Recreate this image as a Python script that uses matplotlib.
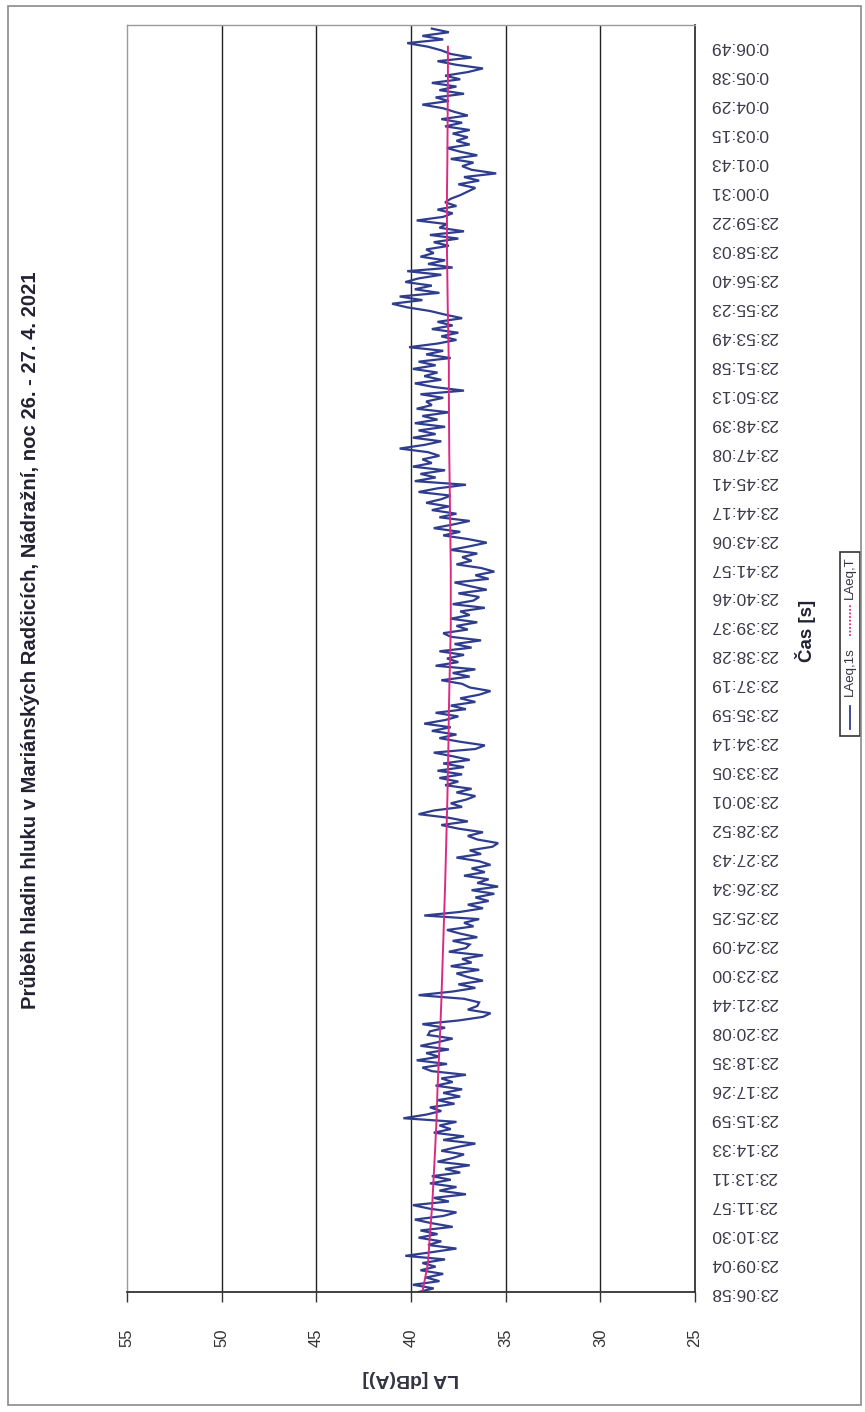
import numpy as np
import matplotlib
matplotlib.use("Agg")
import matplotlib.pyplot as plt
from matplotlib.patches import Rectangle
from matplotlib.lines import Line2D

plt.rcParams['font.family'] = ['Liberation Sans', 'DejaVu Sans']

# ---------------- data ----------------
title = "Průběh hladin hluku v Mariánských Radčicích, Nádražní, noc 26. - 27. 4. 2021"
time_labels = ["23:06:58", "23:09:04", "23:10:30", "23:11:57", "23:13:11", "23:14:33",
               "23:15:59", "23:17:26", "23:18:35", "23:20:08", "23:21:44", "23:23:00",
               "23:24:09", "23:25:25", "23:26:34", "23:27:43", "23:28:52", "23:30:01",
               "23:33:05", "23:34:14", "23:35:59", "23:37:19", "23:38:28", "23:39:37",
               "23:40:46", "23:41:57", "23:43:06", "23:44:17", "23:45:41", "23:47:08",
               "23:48:39", "23:50:13", "23:51:58", "23:53:49", "23:55:23", "23:56:40",
               "23:58:03", "23:59:22", "0:00:31", "0:01:43", "0:03:15", "0:04:29",
               "0:05:38", "0:06:49"]
samples_per_label = 8

laeq_1s = [
    39.6, 38.8, 39.9, 38.5, 39.2, 38.3, 39.5, 38.7,
    39.4, 38.2, 40.3, 38.9, 37.6, 39.1, 38.4, 39.6,
    38.6, 39.5, 37.8, 38.9, 39.8, 38.3, 37.6, 39.0,
    39.9, 38.0, 38.8, 37.1, 38.5, 37.6, 39.0, 37.9,
    38.9, 37.4, 38.2, 36.9, 38.6, 37.8, 37.2, 38.4,
    37.6, 36.6, 38.3, 37.2, 38.8, 37.9, 38.5, 37.6,
    40.4, 39.2, 38.4, 39.0, 37.7, 38.6, 37.4, 38.3,
    37.3, 38.7, 37.8, 38.4, 37.1, 38.9, 39.4, 38.1,
    39.7, 38.5, 39.2, 38.0, 39.5, 38.6, 37.8, 39.1,
    39.0, 38.2, 39.4, 37.5, 36.2, 35.8, 37.0, 36.5,
    36.4, 37.2, 39.6, 37.8, 36.6, 37.5, 36.2, 37.0,
    37.6, 36.4, 37.9, 36.8, 37.3, 36.2, 38.0, 37.1,
    36.9, 37.8, 36.5, 37.4, 38.1, 36.7, 37.2, 36.4,
    39.3, 37.4, 36.2, 37.0, 35.9, 36.6, 35.6, 36.8,
    35.4, 36.5, 35.9, 37.2, 36.1, 36.8, 35.8, 36.4,
    37.6, 36.3, 36.9, 35.7, 35.4, 36.5, 37.0, 36.2,
    37.5, 38.4, 37.0, 38.0, 39.6, 38.8, 37.3, 37.9,
    37.1, 36.6, 37.6, 36.8, 38.2, 37.5, 38.5, 37.3,
    38.6, 37.2, 38.3, 36.9, 37.8, 38.8, 36.6, 36.1,
    37.4, 38.5, 37.6, 38.9, 37.9, 39.3, 38.2, 37.5,
    38.7, 37.1, 37.9, 36.6, 37.4, 36.4, 35.8, 36.9,
    37.3, 38.4, 36.9, 37.8, 36.6, 38.7, 37.5, 38.1,
    37.2, 38.5, 36.8, 37.7, 36.3, 37.9, 38.3, 37.0,
    37.6, 36.5, 37.9, 36.9, 37.4, 36.1, 37.8, 36.7,
    36.4, 37.5, 36.0, 36.9, 37.7, 35.9, 36.6, 35.6,
    36.3, 37.6, 36.8, 37.3, 36.5, 37.9, 36.9, 36.0,
    37.0, 38.3, 37.4, 38.8, 37.8, 36.9, 38.5, 37.6,
    38.9, 38.0, 39.2, 38.4, 37.9, 39.6, 38.6, 37.1,
    39.8, 38.7, 39.5, 38.2, 39.9, 38.9, 39.4, 38.5,
    39.1, 40.6, 39.3, 38.4, 39.9, 38.7, 39.6, 38.2,
    39.8, 38.6, 39.4, 38.0, 39.7, 38.9, 39.2, 38.3,
    39.5, 37.2, 38.8, 39.8, 38.4, 39.3, 38.6, 39.9,
    38.7, 39.6, 37.9, 39.2, 38.3, 40.1, 38.6, 37.6,
    38.4, 37.5, 38.9, 37.8, 38.6, 37.3, 38.2, 39.0,
    40.2, 41.0, 39.4, 40.6, 38.5, 39.8, 38.9, 40.3,
    39.6, 38.4, 40.2, 37.8, 39.1, 38.2, 39.5, 38.8,
    39.2, 38.0, 38.8, 37.5, 39.0, 37.2, 38.5, 38.1,
    39.7, 38.3, 37.8, 38.6, 37.6, 38.2, 37.9, 37.4,
    37.0, 36.6, 37.5, 36.4, 37.2, 35.5, 36.8, 37.3,
    36.7, 37.9, 36.5, 37.4, 38.1, 36.9, 37.6, 37.0,
    37.8, 36.9, 38.2, 37.3, 38.4, 37.0, 37.7, 38.3,
    39.4, 38.0, 38.7, 37.2, 38.5, 37.6, 38.9, 37.4,
    38.2, 37.0, 36.2, 37.6, 38.6, 36.8, 37.9, 38.4,
    39.1, 40.2, 38.3, 39.4, 38.0, 38.9,
]

# LAeq,T (running equivalent level), one value per time label
laeq_T = [39.4, 39.1, 39.0, 38.88, 38.8, 38.72, 38.65, 38.6, 38.53, 38.46,
          38.4, 38.35, 38.3, 38.25, 38.2, 38.16, 38.12, 38.08, 38.05, 38.02,
          38.0, 37.97, 37.93, 37.9, 37.9, 37.9, 37.92, 37.94, 37.96, 37.98,
          37.99, 38.0, 38.0, 38.03, 38.06, 38.08, 38.1, 38.1, 38.1, 38.08,
          38.07, 38.06, 38.05, 38.05]

db_ticks = [55, 50, 45, 40, 35, 30, 25]

# ---------------- figure ----------------
W, H = 865, 1412
fig = plt.figure(figsize=(W / 100, H / 100), dpi=100)
fig.patch.set_facecolor('white')

def fx(px):
    return px / W

def fy(py):
    return 1 - py / H

ax_l, ax_r, ax_t, ax_b = 127, 695, 25, 1292
ax = fig.add_axes([fx(ax_l), fy(ax_b), fx(ax_r) - fx(ax_l), fy(ax_t) - fy(ax_b)])

sample_idx = np.arange(len(laeq_1s))
label_idx = np.arange(len(time_labels)) * samples_per_label

blue = '#2F3D8E'
magenta = '#DB2A83'

ax.plot(laeq_1s, sample_idx, color=blue, lw=1.6, solid_joinstyle='miter')
ax.plot(laeq_T, label_idx[:len(laeq_T)], color=magenta, lw=1.4)

ax.set_xlim(55, 25)
ax.set_ylim(0, 350)

ax.set_xticks(db_ticks)
ax.set_xticklabels([str(v) for v in db_ticks], rotation=90, fontsize=12, color='#333333')
ax.tick_params(axis='x', direction='out', length=7, width=1.0, color='#333333', pad=19)

for v in db_ticks[1:-1]:
    ax.axvline(v, color='#222222', lw=1.0, zorder=0)

ax.yaxis.tick_right()
ax.set_yticks(label_idx)
ax.set_yticklabels(time_labels, rotation=180, fontsize=12.5, color='#3a3a4a')
ax.tick_params(axis='y', length=0, pad=11)
for lab in ax.get_yticklabels():
    lab.set_horizontalalignment('left')
    lab.set_verticalalignment('center')

for side in ['top', 'left']:
    ax.spines[side].set_color('#9a9a9a')
    ax.spines[side].set_linewidth(1.0)
for side in ['bottom', 'right']:
    ax.spines[side].set_color('#333333')
    ax.spines[side].set_linewidth(1.3)

# axis titles
ax.set_xlabel("LA [dB(A)]", fontsize=14, fontweight='bold', rotation=180, labelpad=17,
              color='#333344')
fig.text(fx(805), fy(631), "Čas [s]", rotation=90, fontsize=13.5, fontweight='bold',
         ha='center', va='center', color='#222233')

# title
fig.text(fx(30), fy(640), title, rotation=90, fontsize=14.6, fontweight='bold',
         ha='center', va='center', color='#222233')

# legend (drawn manually, rotated)
lx0, lx1, ly0, ly1 = 840, 860, 552, 736
fig.add_artist(Rectangle((fx(lx0), fy(ly1)), fx(lx1) - fx(lx0), fy(ly0) - fy(ly1),
                         transform=fig.transFigure, fill=False, edgecolor='#333333', lw=1.2))
lxc = (lx0 + lx1) / 2
fig.add_artist(Line2D([fx(lxc), fx(lxc)], [fy(729), fy(706)], transform=fig.transFigure,
                      color=blue, lw=1.3))
fig.text(fx(lxc), fy(672), "LAeq,1s", rotation=90, fontsize=9.5, ha='center', va='center',
         color='#333344')
fig.add_artist(Line2D([fx(lxc), fx(lxc)], [fy(636), fy(605)], transform=fig.transFigure,
                      color=magenta, lw=1.3, ls=(0, (1, 1))))
fig.text(fx(lxc), fy(578), "LAeq,T", rotation=90, fontsize=9.5, ha='center', va='center',
         color='#333344')

# page border
fig.add_artist(Rectangle((fx(8), fy(1405)), fx(861) - fx(8), fy(6) - fy(1405),
                         transform=fig.transFigure, fill=False, edgecolor='#8a8a8a', lw=1.2))

fig.savefig("out.png", dpi=100)
